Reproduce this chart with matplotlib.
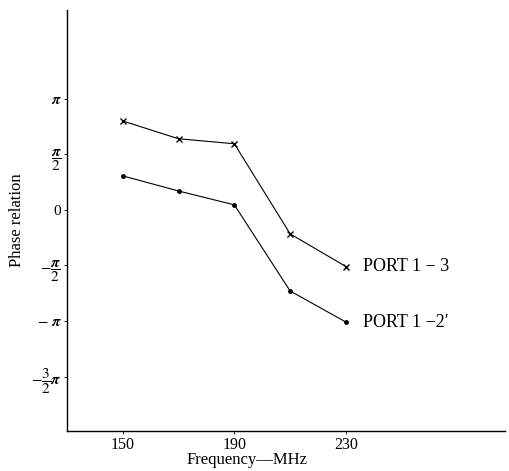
import numpy as np
import matplotlib
matplotlib.use("Agg")
import matplotlib.pyplot as plt

plt.rcParams['font.family'] = ['Liberation Serif', 'DejaVu Serif']
plt.rcParams['mathtext.fontset'] = 'stix'

freq = [150, 170, 190, 210, 230]
port13 = [0.80, 0.64, 0.595, -0.216, -0.51]   # in units of pi
port12 = [0.306, 0.17, 0.045, -0.73, -1.01]   # in units of pi
series_labels = ["PORT 1 − 3", "PORT 1 −2′"]
xticks = [150, 190, 230]
yticks = [1, 0.5, 0, -0.5, -1, -1.5]
ytick_labels = [r'$\boldsymbol{\pi}$', r'$\dfrac{\boldsymbol{\pi}}{2}$', '0',
                r'$-\dfrac{\boldsymbol{\pi}}{2}$', r'$-\ \boldsymbol{\pi}$',
                r'$-\dfrac{3}{2}\boldsymbol{\pi}$']

fig = plt.figure(figsize=(5.09, 4.71), dpi=100)
ax = fig.add_axes([0.1316, 0.085, 0.8604, 0.894])

p13 = np.array(port13) * np.pi
p12 = np.array(port12) * np.pi
ax.plot(freq, p13, color='black', lw=0.8, marker='x', ms=5, mew=1.0)
ax.plot(freq, p12, color='black', lw=0.8, marker='o', ms=2.5)

ax.text(freq[-1] + 6, p13[-1], series_labels[0], va='center', ha='left', fontsize=13)
ax.text(freq[-1] + 6, p12[-1], series_labels[1], va='center', ha='left', fontsize=13)

ax.set_xlim(130, 287)
ax.set_ylim(-1.99 * np.pi, 1.8 * np.pi)
ax.set_xticks(xticks)
ax.set_xticklabels([str(t) for t in xticks], fontsize=11.5)
ax.set_yticks(np.array(yticks) * np.pi)
ax.set_yticklabels(ytick_labels, fontsize=11)
ax.tick_params(axis='both', length=2, width=0.6, pad=2)
for s in ['top', 'right']:
    ax.spines[s].set_visible(False)
for s in ['left', 'bottom']:
    ax.spines[s].set_linewidth(1.0)

fig.text(0.485, 0.024, "Frequency—MHz", fontsize=12, ha='center', va='center')
ax.set_ylabel("Phase relation", fontsize=12, labelpad=4)

fig.savefig("out.png", dpi=100)
